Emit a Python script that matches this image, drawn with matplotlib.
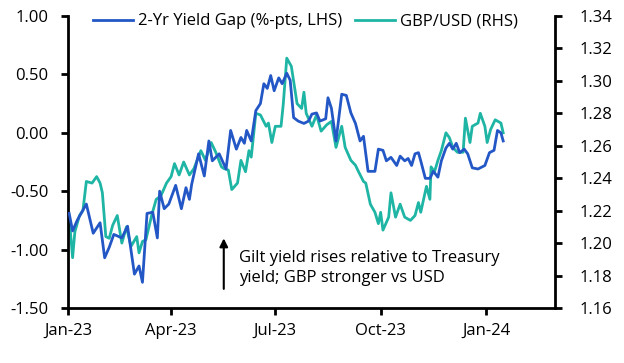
import pandas as pd
import matplotlib.pyplot as plt
import matplotlib.dates as mdates

plt.rcParams['font.family'] = ['Open Sans', 'DejaVu Sans']

# 2-Yr yield gap (UK gilt minus US Treasury), %-pts, LHS
gap_dates = ['2023-01-02', '2023-01-05', '2023-01-09', '2023-01-17', '2023-01-23', '2023-01-29',
             '2023-02-02', '2023-02-06', '2023-02-10', '2023-02-17', '2023-02-22', '2023-02-28',
             '2023-03-04', '2023-03-07', '2023-03-11', '2023-03-16', '2023-03-20', '2023-03-22',
             '2023-03-26', '2023-03-30', '2023-04-05', '2023-04-10', '2023-04-14', '2023-04-17',
             '2023-04-19', '2023-04-25', '2023-04-30', '2023-05-04', '2023-05-07', '2023-05-13',
             '2023-05-19', '2023-05-23', '2023-05-28', '2023-06-01', '2023-06-04', '2023-06-06',
             '2023-06-10', '2023-06-14', '2023-06-18', '2023-06-21', '2023-06-24', '2023-06-27',
             '2023-06-30', '2023-07-04', '2023-07-07', '2023-07-11', '2023-07-14', '2023-07-17',
             '2023-07-21', '2023-07-26', '2023-07-30', '2023-08-02', '2023-08-06', '2023-08-09',
             '2023-08-14', '2023-08-16', '2023-08-19', '2023-08-23', '2023-08-28', '2023-09-01',
             '2023-09-05', '2023-09-09', '2023-09-13', '2023-09-16', '2023-09-20', '2023-09-26',
             '2023-09-29', '2023-10-03', '2023-10-06', '2023-10-10', '2023-10-15', '2023-10-18',
             '2023-10-22', '2023-10-25', '2023-10-28', '2023-10-31', '2023-11-03', '2023-11-05',
             '2023-11-09', '2023-11-13', '2023-11-16', '2023-11-20', '2023-11-23', '2023-11-27',
             '2023-11-30', '2023-12-03', '2023-12-06', '2023-12-09', '2023-12-13', '2023-12-16',
             '2023-12-20', '2023-12-25', '2023-12-31', '2024-01-04', '2024-01-08', '2024-01-11',
             '2024-01-14', '2024-01-16']
gap_values = [-0.69, -0.84, -0.75, -0.61, -0.86, -0.77,
              -1.07, -0.98, -0.87, -0.90, -0.80, -1.21,
              -1.14, -1.28, -0.69, -0.68, -0.90, -0.50,
              -0.65, -0.61, -0.45, -0.65, -0.47, -0.57,
              -0.44, -0.18, -0.37, -0.07, -0.24, -0.18,
              -0.31, 0.02, -0.14, -0.04, -0.09, 0.02,
              -0.07, 0.19, 0.25, 0.42, 0.38, 0.49,
              0.36, 0.47, 0.42, 0.51, 0.45, 0.13,
              0.10, 0.08, 0.10, 0.16, 0.17, 0.10,
              0.12, 0.30, 0.21, -0.07, 0.33, 0.32,
              0.17, 0.08, -0.07, -0.03, -0.33, -0.33,
              -0.14, -0.15, -0.24, -0.21, -0.28, -0.20,
              -0.24, -0.22, -0.28, -0.18, -0.17, -0.24,
              -0.39, -0.39, -0.33, -0.38, -0.24, -0.13,
              -0.09, -0.14, -0.09, -0.17, -0.14, -0.18,
              -0.30, -0.31, -0.28, -0.17, -0.15, 0.02,
              0.00, -0.07]

# GBP/USD, RHS
fx_dates = ['2023-01-02', '2023-01-05', '2023-01-07', '2023-01-11', '2023-01-14', '2023-01-17',
            '2023-01-22', '2023-01-26', '2023-01-29', '2023-01-31', '2023-02-03', '2023-02-06',
            '2023-02-09', '2023-02-13', '2023-02-17', '2023-02-21', '2023-02-25', '2023-03-02',
            '2023-03-04', '2023-03-07', '2023-03-10', '2023-03-15', '2023-03-19', '2023-03-23',
            '2023-03-28', '2023-04-01', '2023-04-04', '2023-04-08', '2023-04-12', '2023-04-17',
            '2023-04-21', '2023-04-27', '2023-05-01', '2023-05-06', '2023-05-10', '2023-05-15',
            '2023-05-17', '2023-05-21', '2023-05-24', '2023-05-29', '2023-06-01', '2023-06-05',
            '2023-06-08', '2023-06-10', '2023-06-14', '2023-06-18', '2023-06-23', '2023-06-25',
            '2023-06-28', '2023-07-01', '2023-07-06', '2023-07-08', '2023-07-11', '2023-07-15',
            '2023-07-20', '2023-07-24', '2023-07-26', '2023-07-28', '2023-08-02', '2023-08-06',
            '2023-08-10', '2023-08-15', '2023-08-19', '2023-08-23', '2023-08-28', '2023-08-31',
            '2023-09-05', '2023-09-09', '2023-09-11', '2023-09-16', '2023-09-18', '2023-09-22',
            '2023-09-26', '2023-09-29', '2023-10-01', '2023-10-03', '2023-10-08', '2023-10-10',
            '2023-10-14', '2023-10-18', '2023-10-22', '2023-10-27', '2023-10-31', '2023-11-03',
            '2023-11-05', '2023-11-10', '2023-11-13', '2023-11-14', '2023-11-17', '2023-11-20',
            '2023-11-23', '2023-11-27', '2023-11-30', '2023-12-03', '2023-12-07', '2023-12-12',
            '2023-12-14', '2023-12-18', '2023-12-20', '2023-12-25', '2023-12-27', '2023-12-31',
            '2024-01-02', '2024-01-05', '2024-01-09', '2024-01-14', '2024-01-16']
fx_values = [1.216, 1.191, 1.207, 1.217, 1.220, 1.238,
             1.237, 1.241, 1.237, 1.231, 1.204, 1.203,
             1.211, 1.217, 1.200, 1.210, 1.198, 1.204,
             1.194, 1.201, 1.202, 1.217, 1.227, 1.229,
             1.237, 1.241, 1.249, 1.242, 1.250, 1.242,
             1.246, 1.257, 1.251, 1.262, 1.256, 1.247,
             1.246, 1.245, 1.233, 1.237, 1.251, 1.244,
             1.257, 1.253, 1.280, 1.279, 1.272, 1.274,
             1.262, 1.272, 1.272, 1.286, 1.314, 1.309,
             1.286, 1.283, 1.293, 1.280, 1.272, 1.279,
             1.269, 1.273, 1.275, 1.259, 1.272, 1.259,
             1.251, 1.248, 1.245, 1.238, 1.237, 1.224,
             1.219, 1.212, 1.219, 1.208, 1.216, 1.231,
             1.216, 1.224, 1.216, 1.214, 1.217, 1.225,
             1.219, 1.235, 1.227, 1.247, 1.244, 1.251,
             1.257, 1.268, 1.265, 1.259, 1.256, 1.256,
             1.277, 1.262, 1.272, 1.274, 1.280, 1.272,
             1.262, 1.270, 1.276, 1.274, 1.268]

left_ticks = [-1.5, -1.0, -0.5, 0.0, 0.5, 1.0]
right_ticks = [1.16, 1.18, 1.20, 1.22, 1.24, 1.26, 1.28, 1.30, 1.32, 1.34]
x_ticks = ['2023-01-01', '2023-04-01', '2023-07-01', '2023-10-01', '2024-01-01']

blue = '#2357C6'
teal = '#1FB5A5'

fig = plt.figure(figsize=(6.24, 3.63), dpi=100)
ax = fig.add_axes([0.109, 0.1515, 0.78, 0.8045])
ax2 = ax.twinx()

l1, = ax.plot(pd.to_datetime(gap_dates), gap_values, color=blue, lw=2, zorder=3)
l2, = ax2.plot(pd.to_datetime(fx_dates), fx_values, color=teal, lw=2)
ax.set_zorder(ax2.get_zorder() + 1)
ax.patch.set_visible(False)

ax.set_ylim(-1.5, 1.0)
ax.set_yticks(left_ticks)
ax.set_yticklabels([f'{v:.2f}' for v in left_ticks])
ax2.set_ylim(1.16, 1.34)
ax2.set_yticks(right_ticks)
ax2.set_yticklabels([f'{v:.2f}' for v in right_ticks])

ax.set_xlim(pd.Timestamp('2023-01-01'), pd.Timestamp('2024-03-01'))
ax.set_xticks(pd.to_datetime(x_ticks))
ax.xaxis.set_major_formatter(mdates.DateFormatter('%b-%y'))

for a in (ax, ax2):
    a.spines['top'].set_visible(False)
    for s in ('left', 'right', 'bottom'):
        a.spines[s].set_linewidth(2)
    a.tick_params(width=2, length=5, labelsize=12, colors='black')
ax.spines['right'].set_visible(False)
ax2.spines['left'].set_visible(False)
ax2.spines['bottom'].set_visible(False)
ax.tick_params(axis='x', pad=6)
ax.tick_params(axis='y', pad=9)
ax2.tick_params(axis='y', pad=13)

ax.legend([l1, l2], ['2-Yr Yield Gap (%-pts, LHS)', 'GBP/USD (RHS)'],
          loc='upper left', bbox_to_anchor=(0.02, 1.06), ncol=2, frameon=False,
          fontsize=12, handlelength=2.4, handletextpad=0.3, columnspacing=0.8)

ax.annotate('', xy=(pd.Timestamp('2023-05-17'), -0.88), xytext=(pd.Timestamp('2023-05-17'), -1.36),
            arrowprops=dict(arrowstyle='-|>', color='black', lw=1.5, mutation_scale=12))
ax.text(pd.Timestamp('2023-05-30'), -1.16, 'Gilt yield rises relative to Treasury\nyield; GBP stronger vs USD',
        fontsize=12, va='center', ha='left', linespacing=1.3)

fig.savefig('out.png', dpi=100)
